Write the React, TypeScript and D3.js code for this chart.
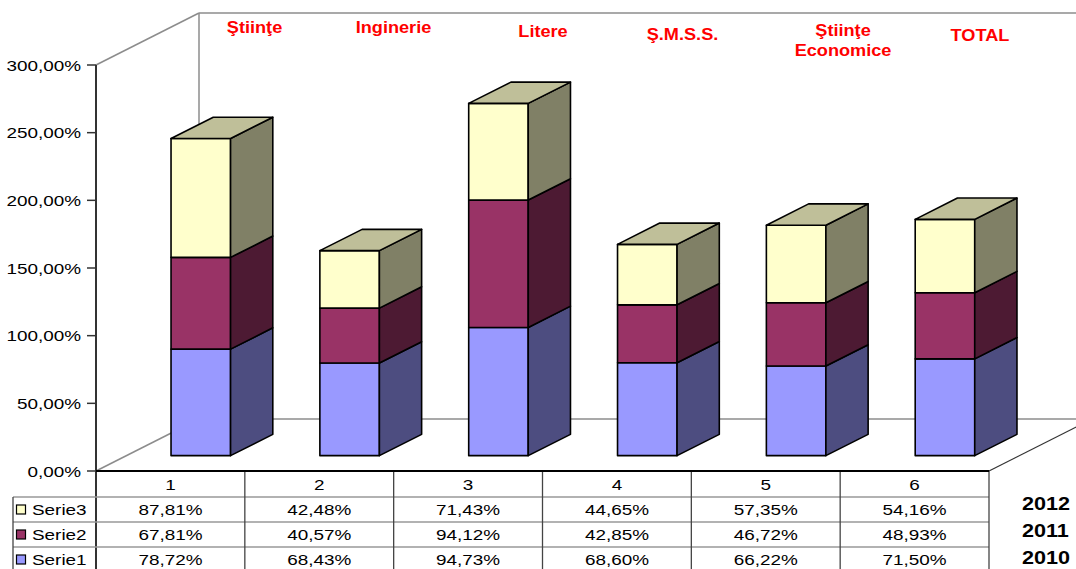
import React from 'react';
import * as d3 from 'd3';

// ---- data ----
const categories = ['1', '2', '3', '4', '5', '6'];
const serie1 = [78.72, 68.43, 94.73, 68.6, 66.22, 71.5];
const serie2 = [67.81, 40.57, 94.12, 42.85, 46.72, 48.93];
const serie3 = [87.81, 42.48, 71.43, 44.65, 57.35, 54.16];
const seriesNames = ['Serie1', 'Serie2', 'Serie3'];
const yTicks = [0, 50, 100, 150, 200, 250, 300];
const yearLabels = ['2012', '2011', '2010'];
const facultyLabels = [['Ştiinţe'], ['Inginerie'], ['Litere'], ['Ş.M.S.S.'], ['Ştiinţe', 'Economice'], ['TOTAL']];

// ---- layout / style ----
const W = 1076;
const H = 569;
const X0 = 96;
const X1 = 989;
const Y0 = 471;
const Y300 = 65;
const DX = 103;
const DY = -52;
const DEPTH_F = 0.295;
const DEPTH_B = 0.705;
const BAR_FRAC = 0.4;
const FONT = 'Liberation Sans, Arial, Helvetica, sans-serif';
const SX = 1.22;

const facultyPos = [
  { x: 254.5, y: 32.5 },
  { x: 393.5, y: 32.5 },
  { x: 543, y: 37 },
  { x: 682.5, y: 39.5 },
  { x: 843, y: 35.5 },
  { x: 980, y: 41.3 },
];

const colors: Record<string, { front: string; side: string; top: string }> = {
  Serie1: { front: '#9999FF', side: '#4D4D80', top: '#7373BF' },
  Serie2: { front: '#993366', side: '#4D1A33', top: '#73264D' },
  Serie3: { front: '#FFFFCC', side: '#808066', top: '#BFBF99' },
};

const locale = d3.formatLocale({ decimal: ',', thousands: '.', grouping: [3], currency: ['', ''] });
const fmt2 = locale.format('.2f');
const pct = (v: number) => fmt2(v) + '%';

const P = (x: number, y: number, d: number): [number, number] => [x + d * DX, y + d * DY];
const poly = (pts: [number, number][]) => 'M' + pts.map((p) => p[0].toFixed(2) + ',' + p[1].toFixed(2)).join('L') + 'Z';

function Txt(props: {
  x: number; y: number; size: number; anchor?: string; weight?: string; fill?: string; sx?: number; children: React.ReactNode;
}) {
  const { x, y, size, anchor = 'middle', weight = 'normal', fill = '#000', sx = SX, children } = props;
  return (
    <text
      transform={`translate(${x},${y}) scale(${sx},1)`}
      textAnchor={anchor}
      fontFamily={FONT}
      fontSize={size}
      fontWeight={weight}
      fill={fill}
    >
      {children}
    </text>
  );
}

export default function App() {
  const y = d3.scaleLinear().domain([0, 300]).range([Y0, Y300]);
  const x = d3.scaleBand().domain(categories).range([X0, X1]).padding(0);
  const bw = x.bandwidth() * BAR_FRAC;

  const rows = categories.map((c, i) => ({ cat: c, Serie1: serie1[i], Serie2: serie2[i], Serie3: serie3[i] }));
  const stacked = d3.stack<any>().keys(seriesNames)(rows);

  const tableRows = [
    { name: 'Serie3', values: serie3 },
    { name: 'Serie2', values: serie2 },
    { name: 'Serie1', values: serie1 },
  ];
  const headerTop = Y0;
  const headerBottom = 497;
  const rowH = 25;

  const bars: React.ReactNode[] = [];
  categories.forEach((c, ci) => {
    const xl = (x(c) as number) + (x.bandwidth() - bw) / 2;
    const xr = xl + bw;
    stacked.forEach((layer, li) => {
      const [v0, v1] = layer[ci];
      const yb = y(v0);
      const yt = y(v1);
      const col = colors[layer.key];
      const isTop = li === stacked.length - 1;
      bars.push(
        <g key={`${c}-${layer.key}`}>
          <path d={poly([P(xl, yb, DEPTH_F), P(xr, yb, DEPTH_F), P(xr, yt, DEPTH_F), P(xl, yt, DEPTH_F)])} fill={col.front} stroke="#000" strokeWidth={1.6} strokeLinejoin="round" />
          <path d={poly([P(xr, yb, DEPTH_F), P(xr, yb, DEPTH_B), P(xr, yt, DEPTH_B), P(xr, yt, DEPTH_F)])} fill={col.side} stroke="#000" strokeWidth={1.6} strokeLinejoin="round" />
          {isTop && (
            <path d={poly([P(xl, yt, DEPTH_F), P(xr, yt, DEPTH_F), P(xr, yt, DEPTH_B), P(xl, yt, DEPTH_B)])} fill={col.top} stroke="#000" strokeWidth={1.6} strokeLinejoin="round" />
          )}
        </g>
      );
    });
  });

  const wallGray = '#8c8c8c';
  const backTL = P(X0, y(300), 1);
  const backBL = P(X0, y(0), 1);
  const backBR = P(X1, y(0), 1);

  return (
    <svg width={W} height={H} style={{ position: 'absolute', left: 0, top: 0, background: '#fff' }}>
      {/* walls */}
      <line x1={X0} y1={y(300)} x2={backTL[0]} y2={backTL[1]} stroke={wallGray} strokeWidth={1.5} />
      <line x1={backTL[0]} y1={backTL[1]} x2={W + 40} y2={backTL[1]} stroke={wallGray} strokeWidth={1.5} />
      <line x1={backTL[0]} y1={backTL[1]} x2={backBL[0]} y2={backBL[1]} stroke={wallGray} strokeWidth={1.5} />
      <line x1={X0} y1={y(0)} x2={backBL[0]} y2={backBL[1]} stroke={wallGray} strokeWidth={1.5} />
      <line x1={backBL[0]} y1={backBL[1]} x2={backBR[0]} y2={backBR[1]} stroke={wallGray} strokeWidth={1.5} />
      <line x1={X1} y1={y(0)} x2={backBR[0]} y2={backBR[1]} stroke="#333" strokeWidth={1.2} />

      {/* y axis */}
      <line x1={X0} y1={y(300)} x2={X0} y2={H} stroke="#333" strokeWidth={2} />
      {yTicks.map((t) => (
        <g key={t}>
          <line x1={X0 - 9} y1={y(t)} x2={X0} y2={y(t)} stroke="#333" strokeWidth={1.5} />
          <Txt x={81} y={y(t) + 5.5} size={15.5} anchor="end">{pct(t)}</Txt>
        </g>
      ))}

      {bars}

      {/* faculty labels */}
      {facultyLabels.map((lines, i) => (
        <g key={i}>
          {lines.map((ln, j) => (
            <Txt key={j} x={facultyPos[i].x} y={facultyPos[i].y + j * 20.5} size={16.5} weight="bold" fill="#FF0000" sx={1.1}>{ln}</Txt>
          ))}
        </g>
      ))}

      {/* data table */}
      {tableRows.map((r, ri) => (
        <line key={'h' + ri} x1={13} y1={headerBottom + ri * rowH} x2={X1} y2={headerBottom + ri * rowH} stroke="#999" strokeWidth={1.5} />
      ))}
      {categories.map((c, ci) => (
        <line key={'v' + ci} x1={(x(c) as number) + x.bandwidth()} y1={headerTop} x2={(x(c) as number) + x.bandwidth()} y2={H} stroke="#444" strokeWidth={1.3} />
      ))}
      <line x1={13} y1={headerBottom} x2={13} y2={H} stroke="#444" strokeWidth={1.3} />
      <line x1={X0} y1={headerTop} x2={X1} y2={headerTop} stroke="#000" strokeWidth={2} />
      {categories.map((c) => (
        <Txt key={'c' + c} x={(x(c) as number) + x.bandwidth() / 2} y={490} size={15.5}>{c}</Txt>
      ))}
      {tableRows.map((r, ri) => {
        const top = headerBottom + ri * rowH;
        return (
          <g key={r.name}>
            <rect x={16.5} y={top + 8} width={9} height={9} fill={colors[r.name].front} stroke="#000" strokeWidth={1.2} />
            <Txt x={32} y={top + 18} size={15.5} anchor="start">{r.name}</Txt>
            {r.values.map((v, ci) => (
              <Txt key={ci} x={(x(categories[ci]) as number) + x.bandwidth() / 2} y={top + 18} size={15.5}>{pct(v)}</Txt>
            ))}
          </g>
        );
      })}

      {/* year labels */}
      {yearLabels.map((yl, i) => (
        <Txt key={yl} x={1022} y={510 + i * 27} size={18} weight="bold" anchor="start" sx={1.2}>{yl}</Txt>
      ))}
    </svg>
  );
}
